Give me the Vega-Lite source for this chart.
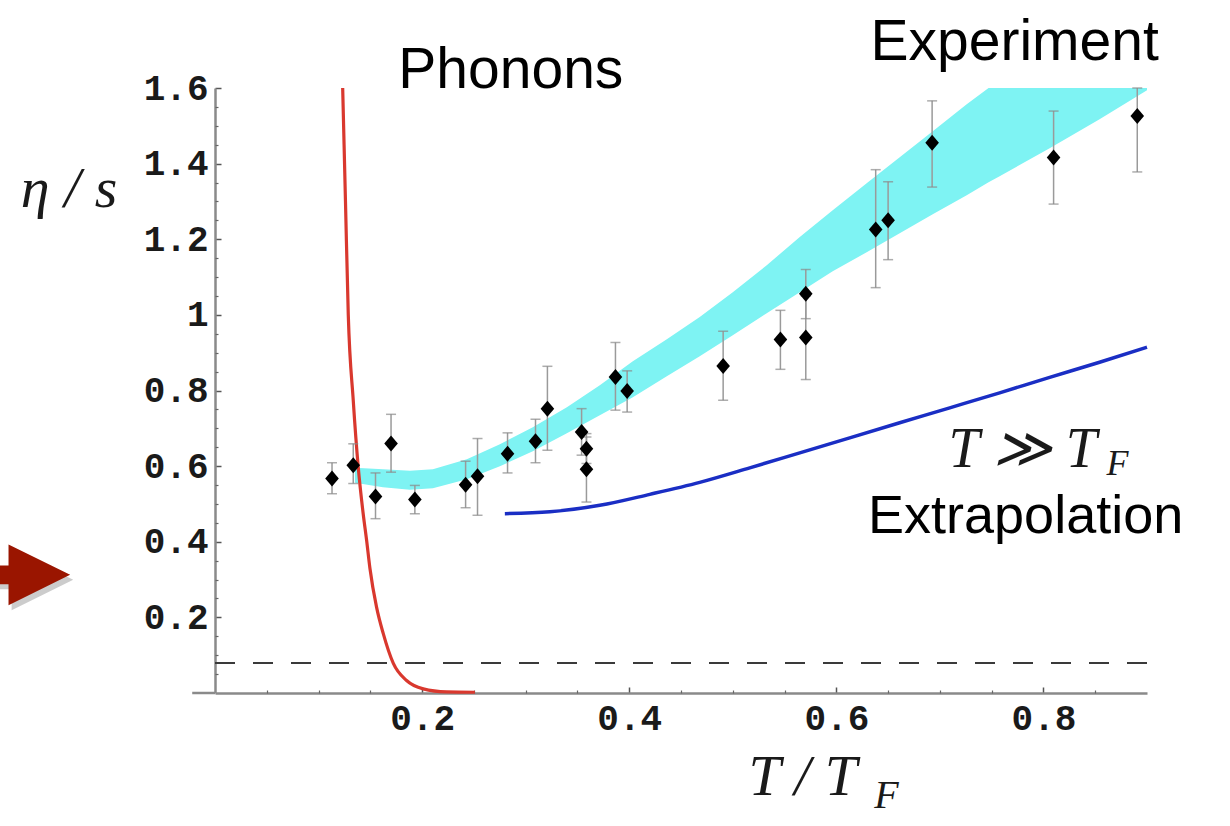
{
  "$schema": "https://vega.github.io/schema/vega-lite/v6.json",
  "width": 932,
  "height": 605,
  "autosize": {"type": "none"},
  "padding": {"left": 215, "top": 88, "right": 83, "bottom": 133},
  "background": "white",
  "config": {"view": {"stroke": null}},
  "datasets": {
    "band": [
      {"x": 0.1351, "lo": 0.5558, "hi": 0.5955},
      {"x": 0.1622, "lo": 0.5439, "hi": 0.5915},
      {"x": 0.1882, "lo": 0.5373, "hi": 0.5876},
      {"x": 0.2104, "lo": 0.5413, "hi": 0.5915},
      {"x": 0.2432, "lo": 0.5651, "hi": 0.618},
      {"x": 0.2751, "lo": 0.5995, "hi": 0.6577},
      {"x": 0.3069, "lo": 0.6392, "hi": 0.7026},
      {"x": 0.3398, "lo": 0.6868, "hi": 0.7556},
      {"x": 0.3716, "lo": 0.7344, "hi": 0.8138},
      {"x": 0.4035, "lo": 0.782, "hi": 0.8772},
      {"x": 0.4363, "lo": 0.8376, "hi": 0.9354},
      {"x": 0.4681, "lo": 0.8905, "hi": 0.9944},
      {"x": 0.5, "lo": 0.946, "hi": 1.0598},
      {"x": 0.5328, "lo": 1.0042, "hi": 1.1312},
      {"x": 0.5647, "lo": 1.0598, "hi": 1.2061},
      {"x": 0.5965, "lo": 1.1153, "hi": 1.2767},
      {"x": 0.6293, "lo": 1.1656, "hi": 1.3481},
      {"x": 0.6612, "lo": 1.2159, "hi": 1.4169},
      {"x": 0.6931, "lo": 1.2661, "hi": 1.4857},
      {"x": 0.7259, "lo": 1.3164, "hi": 1.5571},
      {"x": 0.747, "lo": 1.3508, "hi": 1.6},
      {"x": 0.7577, "lo": 1.3667, "hi": 1.6},
      {"x": 0.806, "lo": 1.4407, "hi": 1.6},
      {"x": 0.8542, "lo": 1.5175, "hi": 1.6},
      {"x": 0.9, "lo": 1.5942, "hi": 1.6}
    ],
    "phonons": [
      {"x": 0.1233, "y": 1.6},
      {"x": 0.126, "y": 1.3},
      {"x": 0.1287, "y": 1.0},
      {"x": 0.1335, "y": 0.774},
      {"x": 0.1383, "y": 0.598},
      {"x": 0.1431, "y": 0.474},
      {"x": 0.1464, "y": 0.404},
      {"x": 0.1496, "y": 0.33},
      {"x": 0.156, "y": 0.227},
      {"x": 0.1625, "y": 0.157},
      {"x": 0.1721, "y": 0.079},
      {"x": 0.185, "y": 0.033},
      {"x": 0.2011, "y": 0.011},
      {"x": 0.2236, "y": 0.003},
      {"x": 0.251, "y": 0.002}
    ],
    "extrap": [
      {"x": 0.2799, "y": 0.4743},
      {"x": 0.3234, "y": 0.4791},
      {"x": 0.3716, "y": 0.4963},
      {"x": 0.4199, "y": 0.5254},
      {"x": 0.4681, "y": 0.5571},
      {"x": 0.5164, "y": 0.5955},
      {"x": 0.5647, "y": 0.6352},
      {"x": 0.6129, "y": 0.6749},
      {"x": 0.6612, "y": 0.7146},
      {"x": 0.7095, "y": 0.7542},
      {"x": 0.7577, "y": 0.7939},
      {"x": 0.806, "y": 0.8349},
      {"x": 0.8542, "y": 0.8746},
      {"x": 0.9, "y": 0.9143}
    ],
    "exp": [
      {"x": 0.113, "y": 0.567, "lo": 0.527, "hi": 0.609},
      {"x": 0.1335, "y": 0.602, "lo": 0.554, "hi": 0.659},
      {"x": 0.155, "y": 0.52, "lo": 0.461, "hi": 0.582},
      {"x": 0.17, "y": 0.66, "lo": 0.584, "hi": 0.737},
      {"x": 0.193, "y": 0.512, "lo": 0.474, "hi": 0.549},
      {"x": 0.242, "y": 0.551, "lo": 0.49, "hi": 0.613},
      {"x": 0.2535, "y": 0.573, "lo": 0.47, "hi": 0.673},
      {"x": 0.2825, "y": 0.633, "lo": 0.582, "hi": 0.688},
      {"x": 0.3095, "y": 0.666, "lo": 0.609, "hi": 0.724},
      {"x": 0.321, "y": 0.752, "lo": 0.642, "hi": 0.864},
      {"x": 0.354, "y": 0.69, "lo": 0.629, "hi": 0.752},
      {"x": 0.3587, "y": 0.646, "lo": 0.607, "hi": 0.686},
      {"x": 0.3587, "y": 0.592, "lo": 0.505, "hi": 0.677},
      {"x": 0.3867, "y": 0.836, "lo": 0.748, "hi": 0.927},
      {"x": 0.398, "y": 0.799, "lo": 0.743, "hi": 0.852},
      {"x": 0.4907, "y": 0.865, "lo": 0.774, "hi": 0.957},
      {"x": 0.546, "y": 0.935, "lo": 0.856, "hi": 1.012},
      {"x": 0.5705, "y": 0.94, "lo": 0.829, "hi": 1.05},
      {"x": 0.5705, "y": 1.056, "lo": 0.99, "hi": 1.12},
      {"x": 0.638, "y": 1.226, "lo": 1.072, "hi": 1.384},
      {"x": 0.65, "y": 1.25, "lo": 1.146, "hi": 1.352},
      {"x": 0.6925, "y": 1.455, "lo": 1.338, "hi": 1.566},
      {"x": 0.8098, "y": 1.416, "lo": 1.293, "hi": 1.539},
      {"x": 0.8906, "y": 1.526, "lo": 1.378, "hi": 1.6}
    ]
  },
  "layer": [
    {
      "data": {"name": "band"},
      "mark": {"type": "area", "color": "#7ef3f3", "opacity": 1},
      "encoding": {
        "x": {"field": "x", "type": "quantitative", "scale": {"domain": [0, 0.9], "nice": false, "zero": false},
          "axis": {"orient": "bottom", "title": null, "grid": false, "values": [0.2, 0.4, 0.6, 0.8], "format": ".1f",
            "domainColor": "#8a8a8a", "domainWidth": 2.5, "tickColor": "#555555", "tickSize": -6, "tickWidth": 1.5,
            "labelFont": "Liberation Mono", "labelFontWeight": "bold", "labelFontSize": 36, "labelColor": "#1a1a1a", "labelPadding": 14}},
        "y": {"field": "hi", "type": "quantitative", "scale": {"domain": [0, 1.6], "nice": false, "zero": false},
          "axis": {"orient": "left", "title": null, "grid": false, "values": [0.2, 0.4, 0.6, 0.8, 1, 1.2, 1.4, 1.6],
            "labelExpr": "datum.value == 1 ? '1' : format(datum.value, '.1f')",
            "domainColor": "#8a8a8a", "domainWidth": 2.5, "tickColor": "#555555", "tickSize": -6, "tickWidth": 1.5,
            "labelFont": "Liberation Mono", "labelFontWeight": "bold", "labelFontSize": 36, "labelColor": "#1a1a1a", "labelPadding": 13}},
        "y2": {"field": "lo"}
      }
    },
    {
      "data": {"values": [{"x": 0, "x2": 0.9, "y": 0.0796}]},
      "mark": {"type": "rule", "strokeDash": [20, 18], "color": "#3a3a3a", "strokeWidth": 2},
      "encoding": {
        "x": {"field": "x", "type": "quantitative", "scale": {"domain": [0, 0.9], "nice": false, "zero": false},
          "axis": {"orient": "bottom", "title": null, "grid": false, "labels": false, "domain": false,
            "values": [0.05, 0.1, 0.15, 0.25, 0.3, 0.35, 0.45, 0.5, 0.55, 0.65, 0.7, 0.75, 0.85],
            "tickColor": "#666666", "tickSize": -3, "tickWidth": 1.2}},
        "x2": {"field": "x2"},
        "y": {"field": "y", "type": "quantitative", "scale": {"domain": [0, 1.6], "nice": false, "zero": false},
          "axis": {"orient": "left", "title": null, "grid": false, "labels": false, "domain": false,
            "values": [0.05, 0.1, 0.15, 0.25, 0.3, 0.35, 0.45, 0.5, 0.55, 0.65, 0.7, 0.75, 0.85, 0.9, 0.95, 1.05, 1.1, 1.15, 1.25, 1.3, 1.35, 1.45, 1.5, 1.55],
            "tickColor": "#666666", "tickSize": -3, "tickWidth": 1.2}}
      }
    },
    {
      "data": {"values": [{"x": -0.022, "x2": 0, "y": 0}]},
      "mark": {"type": "rule", "color": "#8a8a8a", "strokeWidth": 2.5},
      "encoding": {
        "x": {"field": "x", "type": "quantitative", "axis": null},
        "x2": {"field": "x2"},
        "y": {"field": "y", "type": "quantitative", "axis": null}
      }
    },
    {
      "data": {"name": "phonons"},
      "mark": {"type": "line", "color": "#d9382e", "strokeWidth": 3.2, "interpolate": "monotone"},
      "encoding": {
        "x": {"field": "x", "type": "quantitative", "axis": null},
        "y": {"field": "y", "type": "quantitative", "axis": null}
      }
    },
    {
      "data": {"name": "extrap"},
      "mark": {"type": "line", "color": "#1a2ec4", "strokeWidth": 3.5, "interpolate": "monotone"},
      "encoding": {
        "x": {"field": "x", "type": "quantitative", "axis": null},
        "y": {"field": "y", "type": "quantitative", "axis": null}
      }
    },
    {
      "data": {"name": "exp"},
      "mark": {"type": "rule", "color": "#9a9a9a", "strokeWidth": 1.5},
      "encoding": {
        "x": {"field": "x", "type": "quantitative", "axis": null},
        "y": {"field": "lo", "type": "quantitative", "axis": null},
        "y2": {"field": "hi"}
      }
    },
    {
      "data": {"name": "exp"},
      "mark": {"type": "tick", "orient": "horizontal", "color": "#8a8a8a", "size": 10, "thickness": 1.5},
      "encoding": {
        "x": {"field": "x", "type": "quantitative", "axis": null},
        "y": {"field": "lo", "type": "quantitative", "axis": null}
      }
    },
    {
      "data": {"name": "exp"},
      "mark": {"type": "tick", "orient": "horizontal", "color": "#8a8a8a", "size": 10, "thickness": 1.5},
      "encoding": {
        "x": {"field": "x", "type": "quantitative", "axis": null},
        "y": {"field": "hi", "type": "quantitative", "axis": null}
      }
    },
    {
      "data": {"name": "exp"},
      "mark": {"type": "point", "filled": true, "color": "#000000", "opacity": 1, "size": 256, "shape": "M-0.85,0L0,-1L0.85,0L0,1Z"},
      "encoding": {
        "x": {"field": "x", "type": "quantitative", "axis": null},
        "y": {"field": "y", "type": "quantitative", "axis": null}
      }
    },
    {
      "data": {"values": [{"x": 0.2857, "y": 1.5995, "label": "Phonons"}, {"x": 0.7722, "y": 1.6735, "label": "Experiment"}]},
      "mark": {"type": "text", "font": "Liberation Sans", "fontSize": 57, "align": "center", "baseline": "alphabetic", "color": "#000000"},
      "encoding": {
        "x": {"field": "x", "type": "quantitative", "axis": null},
        "y": {"field": "y", "type": "quantitative", "axis": null},
        "text": {"field": "label"}
      }
    },
    {
      "data": {"values": [{"x": 0.7828, "y": 0.4222, "label": "Extrapolation"}]},
      "mark": {"type": "text", "font": "Liberation Sans", "fontSize": 54, "align": "center", "baseline": "alphabetic", "color": "#000000"},
      "encoding": {
        "x": {"field": "x", "type": "quantitative", "axis": null},
        "y": {"field": "y", "type": "quantitative", "axis": null},
        "text": {"field": "label"}
      }
    },
    {
      "data": {"values": [{"x": 0.78, "y": 0.5968, "label": "T ≫ T"}]},
      "mark": {"type": "text", "font": "Liberation Serif", "fontStyle": "italic", "fontSize": 56, "align": "center", "baseline": "alphabetic", "color": "#1a1a1a"},
      "encoding": {
        "x": {"field": "x", "type": "quantitative", "axis": null},
        "y": {"field": "y", "type": "quantitative", "axis": null},
        "text": {"field": "label"}
      }
    },
    {
      "data": {"values": [{"x": -0.1409, "y": 1.2847, "label": "η / s"}, {"x": 0.5676, "y": -0.2709, "label": "T / T"}]},
      "mark": {"type": "text", "font": "Liberation Serif", "fontStyle": "italic", "fontSize": 58, "align": "center", "baseline": "alphabetic", "color": "#1a1a1a"},
      "encoding": {
        "x": {"field": "x", "type": "quantitative", "axis": null},
        "y": {"field": "y", "type": "quantitative", "axis": null},
        "text": {"field": "label"}
      }
    },
    {
      "data": {"values": [{"x": 0.8716, "y": 0.5757, "label": "F"}]},
      "mark": {"type": "text", "font": "Liberation Serif", "fontStyle": "italic", "fontSize": 36, "align": "center", "baseline": "alphabetic", "color": "#1a1a1a"},
      "encoding": {
        "x": {"field": "x", "type": "quantitative", "axis": null},
        "y": {"field": "y", "type": "quantitative", "axis": null},
        "text": {"field": "label"}
      }
    },
    {
      "data": {"values": [{"x": 0.6485, "y": -0.3053, "label": "F"}]},
      "mark": {"type": "text", "font": "Liberation Serif", "fontStyle": "italic", "fontSize": 40, "align": "center", "baseline": "alphabetic", "color": "#1a1a1a"},
      "encoding": {
        "x": {"field": "x", "type": "quantitative", "axis": null},
        "y": {"field": "y", "type": "quantitative", "axis": null},
        "text": {"field": "label"}
      }
    },
    {
      "data": {"values": [{"x": -0.1707, "y": 0.2994}]},
      "mark": {"type": "point", "filled": true, "color": "#555555", "opacity": 0.3, "size": 4900, "shape": "M-1.4,-0.27L-0.76,-0.27L-0.76,-0.87L1,0L-0.76,0.87L-0.76,0.27L-1.4,0.27Z"},
      "encoding": {
        "x": {"field": "x", "type": "quantitative", "axis": null},
        "y": {"field": "y", "type": "quantitative", "axis": null}
      }
    },
    {
      "data": {"values": [{"x": -0.1737, "y": 0.3124}]},
      "mark": {"type": "point", "filled": true, "color": "#9a1500", "opacity": 1, "size": 4900, "shape": "M-1.4,-0.27L-0.76,-0.27L-0.76,-0.87L1,0L-0.76,0.87L-0.76,0.27L-1.4,0.27Z"},
      "encoding": {
        "x": {"field": "x", "type": "quantitative", "axis": null},
        "y": {"field": "y", "type": "quantitative", "axis": null}
      }
    }
  ],
  "resolve": {"axis": {"x": "independent", "y": "independent"}}
}
